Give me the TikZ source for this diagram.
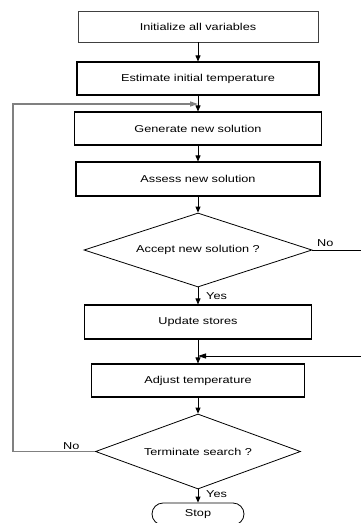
\documentclass[tikz,border=0pt]{standalone}
\usepackage{fontspec}
\setmainfont[FakeStretch=1.27]{Liberation Sans}
\usetikzlibrary{arrows.meta,shapes.geometric}
\begin{document}
\begin{tikzpicture}[x=1pt,y=1pt,
  every node/.style={font=\fontsize{10}{12}\selectfont, inner sep=0pt},
  procbox/.style={draw=black, line width=1.1pt, rectangle, minimum height=33pt},
  firstbox/.style={draw=black!75, line width=0.7pt, rectangle, minimum height=31pt},
  decision/.style={draw=black, line width=0.8pt, diamond, aspect=3},
  stopbox/.style={draw=black, line width=0.8pt, rectangle, rounded corners=11pt, minimum width=92pt, minimum height=22pt},
  conn/.style={draw=black, line width=0.8pt, -{Triangle[length=6pt,width=5pt]}},
  loop/.style={draw=black!50, line width=1.4pt},
  looparrow/.style={draw=black!50, line width=1.4pt, -{Triangle[length=8pt,width=5pt]}},
  lbl/.style={font=\fontsize{10}{12}\selectfont}
]
\useasboundingbox (0,0) rectangle (361,-523);
\fill[white] (0,0) rectangle (361,-523);

\node[firstbox, minimum width=240pt] (b1) at (198,-26.5) {Initialize all variables};
\node[procbox, minimum width=242pt] (b2) at (198,-78.5) {Estimate initial temperature};
\node[procbox, minimum width=247pt] (b3) at (198,-128.5) {Generate new solution};
\node[procbox, minimum width=244pt, minimum height=34pt] (b4) at (198,-179) {Assess new solution};
\node[decision, minimum width=228pt, minimum height=74pt] (d1) at (198,-250) {Accept new solution ?};
\node[procbox, minimum width=227pt, minimum height=34pt] (b5) at (198,-322) {Update stores};
\node[procbox, minimum width=213pt] (b6) at (198,-380.5) {Adjust temperature};
\node[decision, minimum width=205pt, minimum height=75pt] (d2) at (198,-451.5) {Terminate search ?};
\node[stopbox] (stop) at (198,-514) {Stop};

\coordinate (j1) at (198,-104);
\coordinate (j2) at (198,-356);
\coordinate (ll) at (13,-451.5);
\coordinate (rr) at (380,-250);

\draw[conn] (b1) -- (b2);
\draw[conn] (b2) -- (b3);
\draw[conn] (b3) -- (b4);
\draw[conn] (b4) -- (d1);
\draw[conn] (d1) -- (b5);
\draw[conn] (b5) -- (b6);
\draw[conn] (b6) -- (d2);
\draw[conn] (d2) -- (stop);

\draw[loop] (d2.west) -- (ll);
\draw[looparrow] (ll) |- (j1);
\draw[line width=0.8pt] (d1.east) -- (rr);
\draw[line width=0.8pt, -{Triangle[length=8pt,width=5pt]}] (rr) |- (j2);

\node[lbl, anchor=west] at (206,-296) {Yes};
\node[lbl, anchor=west] at (206,-494) {Yes};
\node[lbl, anchor=west] at (317,-243) {No};
\node[lbl, anchor=west] at (63,-446) {No};
\end{tikzpicture}
\end{document}
